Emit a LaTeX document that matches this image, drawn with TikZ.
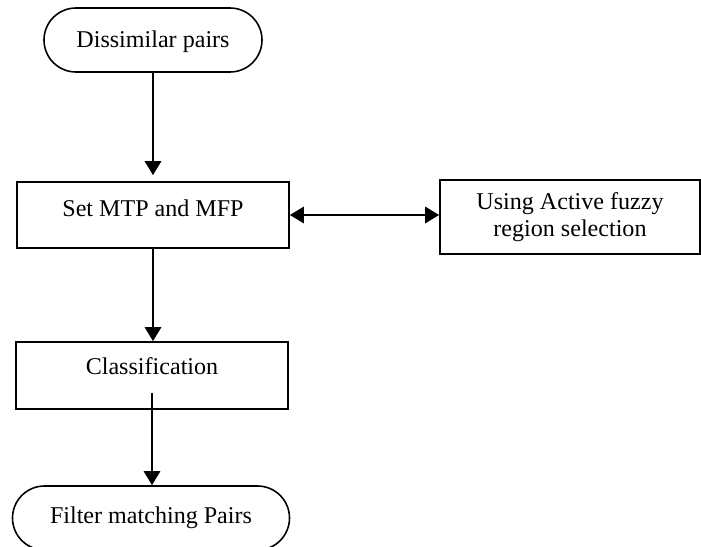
\documentclass[tikz,border=0pt]{standalone}
\usepackage{fontspec}
\setmainfont{Liberation Serif}
\usetikzlibrary{arrows.meta}

\begin{document}
\begin{tikzpicture}[
    every node/.style={font=\fontsize{13.7}{15}\selectfont, align=center},
    box/.style={draw, line width=0.9pt, inner sep=0pt},
    term/.style={box, rounded corners=0.64cm, minimum height=1.28cm},
    flow/.style={line width=1.6pt, -{Triangle[width=0.32cm,length=0.28cm]}}
  ]
  \useasboundingbox (0,0) rectangle (14.02,-10.94);
  \node[term, minimum width=4.36cm, text height=0.4cm] (dis) at (3.06,-0.80) {Dissimilar pairs};
  \node[box, minimum width=5.44cm, minimum height=1.32cm, text depth=0.27cm] (set) at (3.06,-4.30) {Set MTP and MFP};
  \node[box, minimum width=5.20cm, minimum height=1.48cm] (use) at (11.40,-4.34) {Using Active fuzzy\\region selection};
  \node[box, minimum width=5.44cm, minimum height=1.34cm, text depth=0.37cm] (cls) at (3.04,-7.51) {Classification};
  \node[term, minimum width=5.54cm] (flt) at (3.02,-10.36) {Filter matching Pairs};
  \coordinate (clsout) at ([yshift=0.34cm]cls.south);

  \draw[flow, shorten >=0.12cm] (dis) -- (dis |- set.north);
  \draw[flow] (set) -- (set |- cls.north);
  \draw[flow, {Triangle[width=0.32cm,length=0.28cm]}-{Triangle[width=0.32cm,length=0.28cm]}] (set.east) -- (set.east -| use.west);
  \draw[flow] (clsout) -- (clsout |- flt.north);
\end{tikzpicture}
\end{document}
